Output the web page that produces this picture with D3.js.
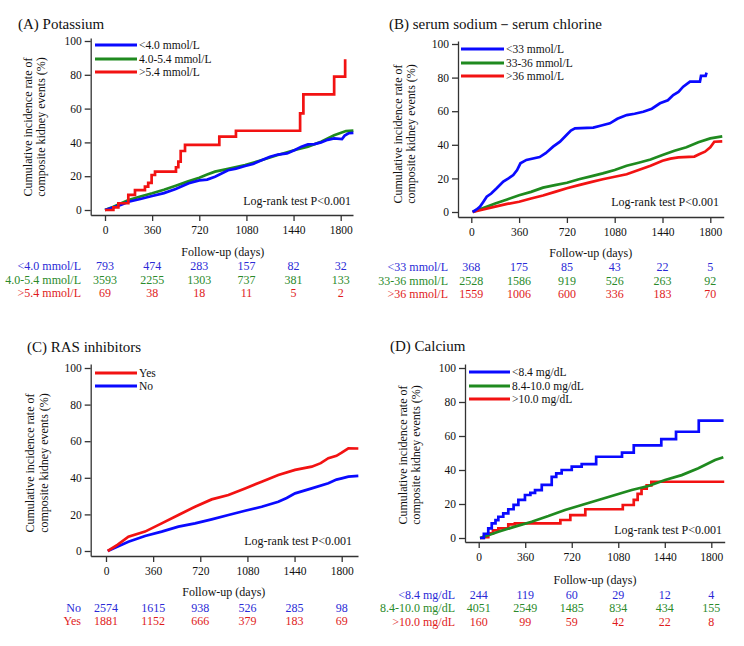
<!DOCTYPE html>
<html><head><meta charset="utf-8">
<script src="https://cdn.jsdelivr.net/npm/d3@7"></script>
<style>
body{margin:0;background:#fff}
svg{display:block}
text{font-family:"Liberation Serif","Times New Roman",serif;fill:#111}
</style>
</head><body>
<svg id="c" width="744" height="646"></svg>
<script>
// ---------- shared ticks ----------
const xTicks = [0, 360, 720, 1080, 1440, 1800];
const yTicks = [0, 20, 40, 60, 80, 100];

// ---------- Panel A: Potassium ----------
const aLabels = ["<4.0 mmol/L", "4.0-5.4 mmol/L", ">5.4 mmol/L"];
const aLow = [[0,0],[60,1.5],[120,3],[180,4.9],[270,6.5],[360,8.3],[450,10],[540,12.4],[640,15.8],[720,17.5],[780,18],[840,19.7],[940,23.5],[1000,24.5],[1070,26],[1130,27.2],[1200,29.6],[1260,31.5],[1320,32.8],[1390,33.5],[1450,35.5],[1500,37.5],[1550,38.8],[1600,39],[1650,40],[1700,41.5],[1750,42.4],[1810,42],[1830,44],[1860,45.4],[1897,45.6]];
const aMid = [[0,0],[60,1.8],[120,3.8],[180,5.9],[270,8],[360,9.9],[450,12],[540,14.4],[630,16.8],[720,19.1],[780,21],[840,22.7],[940,24.3],[1070,26.6],[1200,29.6],[1320,32.5],[1450,35.5],[1550,37.5],[1650,40.4],[1750,44.2],[1840,46.7],[1897,47]];
const aHigh = [[0,0],[64,1.5],[102,4],[178,8.9],[229,11.8],[305,13.8],[330,16],[356,20.7],[382,22.7],[542,25.3],[560,28.6],[578,34.9],[611,38.5],[873,43.4],[1000,46.9],[1490,57.2],[1515,68.4],[1750,78.9],[1834,89.2]];
const aRisk = [[793,474,283,157,82,32],[3593,2255,1303,737,381,133],[69,38,18,11,5,2]];

// ---------- Panel B: serum sodium - serum chlorine ----------
const bLabels = ["<33 mmol/L", "33-36 mmol/L", ">36 mmol/L"];
const bLow = [[10,0],[40,1.5],[66,3.2],[90,6],[116,9.1],[150,11],[191,14.1],[241,18.1],[280,20],[316,22],[345,25],[370,29],[415,31],[515,32.7],[560,35],[616,38.9],[668,41.9],[717,45.8],[750,48.5],[781,49.8],[919,50.2],[980,51.5],[1044,52.8],[1100,55.5],[1170,57.7],[1230,58.5],[1295,59.7],[1360,61.5],[1421,64.7],[1480,66.5],[1521,69.6],[1560,71.5],[1596,74.6],[1647,77.6],[1722,77.6],[1730,81],[1765,81],[1772,82.9]];
const bMid = [[10,0],[90,2.3],[180,5],[270,7.5],[360,10],[450,12],[540,14.5],[630,16],[720,17.4],[810,19.5],[900,21.2],[990,23],[1080,25],[1170,27.5],[1260,29.3],[1350,31.2],[1440,33.9],[1530,36.5],[1620,38.5],[1710,41.5],[1800,43.8],[1890,45]];
const bHigh = [[10,0],[90,1.5],[180,3.2],[270,4.8],[360,6.1],[450,8],[540,9.8],[630,12],[720,14.1],[810,16],[900,17.8],[990,19.5],[1080,21],[1170,22.5],[1260,25],[1350,27.5],[1440,30.5],[1500,31.8],[1560,32.5],[1680,33],[1720,34.5],[1760,35.9],[1800,38.5],[1830,41.8],[1890,42]];
const bRisk = [[368,175,85,43,22,5],[2528,1586,919,526,263,92],[1559,1006,600,336,183,70]];

// ---------- Panel C: RAS inhibitors ----------
const cLegendLabels = ["Yes", "No"];
const cRiskLabels = ["No", "Yes"];
const cYes = [[13,0],[90,3.5],[171,7.8],[298,10.6],[425,15.1],[553,19.7],[680,24.2],[807,28.2],[935,30.6],[1062,34.2],[1189,37.9],[1316,41.5],[1444,44.3],[1571,46.1],[1640,48],[1698,50.7],[1760,52],[1800,53.7],[1851,56.1],[1927,56]];
const cNo = [[13,0],[90,2.5],[171,5.1],[298,8.2],[425,10.6],[553,13.3],[680,15.1],[807,17.3],[935,19.7],[1062,22],[1189,24.2],[1316,26.9],[1380,29],[1444,31.5],[1571,34.2],[1698,37],[1760,39],[1800,39.7],[1851,40.6],[1927,41]];
const cRisk = [[2574,1615,938,526,285,98],[1881,1152,666,379,183,69]];

// ---------- Panel D: Calcium ----------
const dLabels = ["<8.4 mg/dL", "8.4-10.0 mg/dL", ">10.0 mg/dL"];
const dLow = [[10,0],[40,2.5],[74,5.7],[101,8.6],[130,10.5],[152,12.5],[190,14.5],[229,16.9],[270,19.5],[307,22.4],[358,25.3],[400,26.5],[436,28.2],[488,31.2],[540,31.2],[565,36],[600,38],[642,40],[720,42],[797,43.5],[909,47.8],[1109,50.2],[1200,54.5],[1413,58.2],[1527,62.5],[1703,69],[1895,69]];
const dMid = [[10,0],[80,1.8],[152,3.7],[281,6.7],[410,9.6],[539,12.9],[668,16.5],[797,19.4],[926,22.4],[1055,25.3],[1184,28.2],[1313,30.6],[1442,34.1],[1571,37],[1700,41],[1829,45.9],[1893,47.5]];
const dHigh = [[10,0],[36,0.5],[74,2.7],[110,4.5],[152,5.7],[229,8],[280,8.6],[632,10.6],[709,13.5],[825,16.9],[1115,19.4],[1200,22.4],[1230,26],[1260,29.1],[1300,31],[1336,33.1],[1900,33.1]];
const dRisk = [[244,119,60,29,12,4],[4051,2549,1485,834,434,155],[160,99,59,42,22,8]];

// ---------- colours ----------
const BLUE = "#0a0aff", GREEN = "#1f8a1f", RED = "#f21212";
const TBLUE = "#2a2ad6", TGREEN = "#2a8a2a", TRED = "#e01b1b";

const svg = d3.select("#c");

function panel(cfg) {
  const g = svg.append("g");
  const k = (cfg.x1800 - cfg.x0) / 1800;
  const x = d3.scaleLinear()
    .domain([(cfg.ax - cfg.x0) / k, (cfg.xEnd - cfg.x0) / k])
    .range([cfg.ax, cfg.xEnd]);
  const m = (cfg.y0 - cfg.y100) / 100;
  const y = d3.scaleLinear()
    .domain([(cfg.y0 - cfg.axisY) / m, (cfg.y0 - cfg.yTop) / m])
    .range([cfg.axisY, cfg.yTop]);

  g.append("text").attr("x", cfg.tx).attr("y", cfg.ty)
    .style("font-size", "15px").text(cfg.title);

  const xa = g.append("g").attr("transform", `translate(0,${cfg.axisY})`)
    .call(d3.axisBottom(x).tickValues(xTicks).tickFormat(d3.format("d"))
      .tickSizeInner(6).tickSizeOuter(0).tickPadding(5));
  const ya = g.append("g").attr("transform", `translate(${cfg.ax},0)`)
    .call(d3.axisLeft(y).tickValues(yTicks).tickFormat(d3.format("d"))
      .tickSizeInner(6).tickSizeOuter(0).tickPadding(3));
  [xa, ya].forEach(a => {
    a.selectAll("path,line").attr("stroke", "#333").attr("stroke-width", 1.3);
    a.selectAll("text").style("font-size", "11.5px").style("font-family", "Liberation Serif").attr("fill", "#111");
  });

  const yl = g.append("text").attr("transform", `translate(${cfg.ylx},${cfg.yly}) rotate(-90)`)
    .attr("text-anchor", "middle").style("font-size", "12px");
  yl.append("tspan").attr("x", 0).attr("dy", "0.35em").text("Cumulative incidence rate of");
  yl.append("tspan").attr("x", 0).attr("dy", cfg.ylGap).text("composite kidney events (%)");

  cfg.series.forEach(s => {
    const line = d3.line().x(d => x(d[0])).y(d => y(d[1]))
      .curve(s.step ? d3.curveStepAfter : d3.curveLinear);
    g.append("path").datum(s.data).attr("d", line)
      .attr("fill", "none").attr("stroke", s.color).attr("stroke-width", 2.7)
      .attr("stroke-linejoin", "miter");
  });

  cfg.legend.items.forEach((it, i) => {
    const ly = cfg.legend.ys[i];
    g.append("line").attr("x1", cfg.legend.x1).attr("x2", cfg.legend.x2)
      .attr("y1", ly).attr("y2", ly).attr("stroke", it.color).attr("stroke-width", 3.2);
    g.append("text").attr("x", cfg.legend.x2 + 2).attr("y", ly).attr("dy", "0.35em")
      .style("font-size", "11.5px").text(it.label);
  });

  g.append("text").attr("x", cfg.lrx).attr("y", cfg.lry).attr("dy", "0.35em")
    .attr("text-anchor", "end").style("font-size", "12px").text("Log-rank test P<0.001");

  g.append("text").attr("x", (x(0) + x(1800)) / 2).attr("y", cfg.fy).attr("dy", "0.35em")
    .attr("text-anchor", "middle").style("font-size", "12px").text("Follow-up (days)");

  cfg.risk.rows.forEach((row, i) => {
    const ry = cfg.risk.ys[i];
    g.append("text").attr("x", cfg.risk.lx).attr("y", ry).attr("dy", "0.35em")
      .attr("text-anchor", "end").style("font-size", "12px")
      .style("fill", cfg.risk.colors[i]).text(cfg.risk.labels[i]);
    row.forEach((v, j) => {
      g.append("text").attr("x", x(xTicks[j])).attr("y", ry).attr("dy", "0.35em")
        .attr("text-anchor", "middle").style("font-size", "12px")
        .style("fill", cfg.risk.colors[i]).text(v);
    });
  });
}

panel({
  title: "(A) Potassium", tx: 18, ty: 29,
  ax: 90.7, x0: 105, x1800: 340.7, xEnd: 353,
  yTop: 38, y100: 41, y0: 210, axisY: 215,
  ylx: 28, yly: 127, ylGap: 13,
  series: [{data: aMid, color: GREEN}, {data: aLow, color: BLUE}, {data: aHigh, color: RED, step: true}],
  legend: {x1: 95, x2: 137, ys: [45, 59, 72], items: [
    {label: aLabels[0], color: BLUE}, {label: aLabels[1], color: GREEN}, {label: aLabels[2], color: RED}]},
  lrx: 351, lry: 201, fy: 252,
  risk: {lx: 81, ys: [266, 280, 293], labels: aLabels, rows: aRisk, colors: [TBLUE, TGREEN, TRED]}
});

panel({
  title: "(B) serum sodium－serum chlorine", tx: 389, ty: 29,
  ax: 458, x0: 471.3, x1800: 710.3, xEnd: 723.7,
  yTop: 41, y100: 44, y0: 212, axisY: 217,
  ylx: 398, yly: 134, ylGap: 13,
  series: [{data: bMid, color: GREEN}, {data: bHigh, color: RED}, {data: bLow, color: BLUE}],
  legend: {x1: 461, x2: 504, ys: [49, 63, 76], items: [
    {label: bLabels[0], color: BLUE}, {label: bLabels[1], color: GREEN}, {label: bLabels[2], color: RED}]},
  lrx: 719, lry: 202, fy: 253,
  risk: {lx: 448, ys: [267, 281, 294], labels: bLabels, rows: bRisk, colors: [TBLUE, TGREEN, TRED]}
});

panel({
  title: "(C) RAS inhibitors", tx: 27, ty: 352,
  ax: 90.7, x0: 106, x1800: 341.7, xEnd: 358,
  yTop: 364, y100: 368, y0: 551, axisY: 556,
  ylx: 30, yly: 463, ylGap: 14,
  series: [{data: cNo, color: BLUE}, {data: cYes, color: RED}],
  legend: {x1: 95, x2: 137, ys: [373, 386], items: [
    {label: cLegendLabels[0], color: RED}, {label: cLegendLabels[1], color: BLUE}]},
  lrx: 352, lry: 541, fy: 592,
  risk: {lx: 81, ys: [608, 621], labels: cRiskLabels, rows: cRisk, colors: [TBLUE, TRED]}
});

panel({
  title: "(D) Calcium", tx: 390, ty: 351,
  ax: 465, x0: 478.7, x1800: 711.3, xEnd: 724.7,
  yTop: 364, y100: 368, y0: 538, axisY: 542,
  ylx: 403, yly: 455, ylGap: 13,
  series: [{data: dHigh, color: RED, step: true}, {data: dMid, color: GREEN}, {data: dLow, color: BLUE, step: true}],
  legend: {x1: 469, x2: 510, ys: [372, 386, 399], items: [
    {label: dLabels[0], color: BLUE}, {label: dLabels[1], color: GREEN}, {label: dLabels[2], color: RED}]},
  lrx: 722, lry: 530, fy: 580,
  risk: {lx: 455, ys: [594.5, 608, 622], labels: dLabels, rows: dRisk, colors: [TBLUE, TGREEN, TRED]}
});
</script>
</body></html>
